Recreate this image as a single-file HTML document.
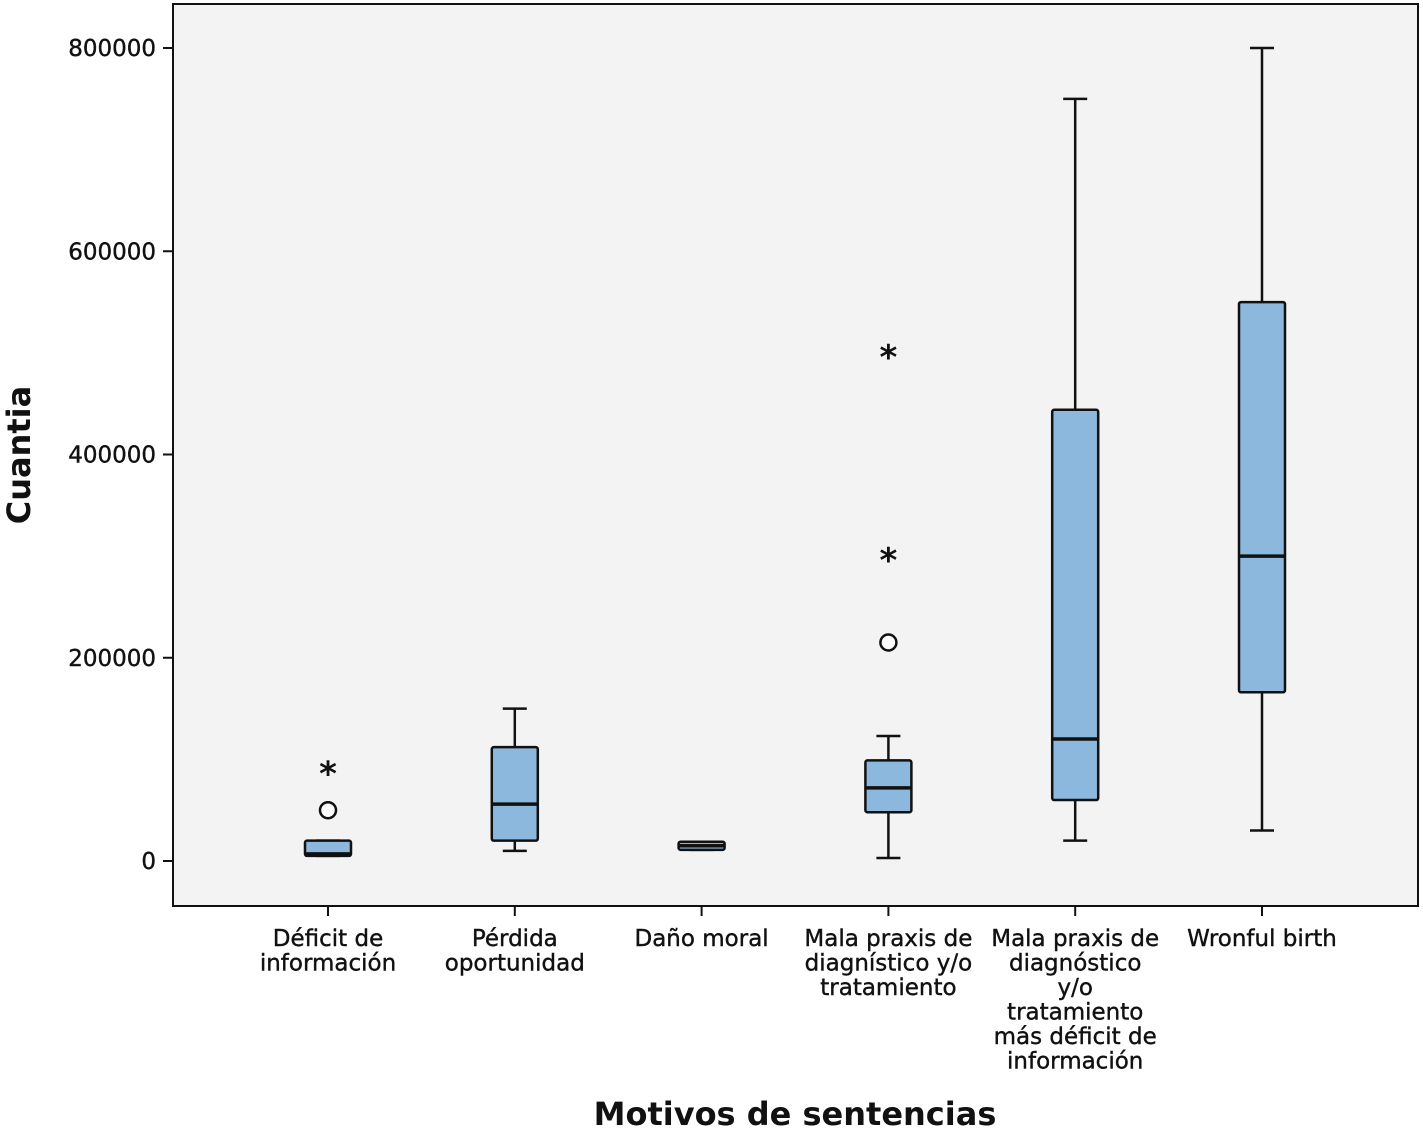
<!DOCTYPE html>
<html><head><meta charset="utf-8"><style>
html,body{margin:0;padding:0;background:#fff;}
svg{display:block;font-family:"DejaVu Sans","Liberation Sans",sans-serif;}
</style></head><body>
<svg id="chart" width="1423" height="1133" viewBox="0 0 1423 1133">
<rect x="173" y="4" width="1245" height="902" fill="#f3f3f3" stroke="#111" stroke-width="2"/>
<g id="yticks"></g>
<g id="boxes"></g>
<g id="xlabels"></g>
<text x="30" y="455" transform="rotate(-90 30 455)" text-anchor="middle" font-size="32" font-weight="bold" fill="#111">Cuantia</text>
<text x="795" y="1125" text-anchor="middle" font-size="32" font-weight="bold" fill="#111">Motivos de sentencias</text>
</svg>
<script>
const categories = [["Déficit de","información"],["Pérdida","oportunidad"],["Daño moral"],["Mala praxis de","diagnístico y/o","tratamiento"],["Mala praxis de","diagnóstico","y/o","tratamiento","más déficit de","información"],["Wronful birth"]];
const whiskerLow = [5000,10000,11000,3000,20000,30000];
const q1 = [5000,20000,11000,48000,60000,166000];
const medians = [7000,56000,15000,72000,120000,300000];
const q3 = [20000,112000,19000,99000,444000,550000];
const whiskerHigh = [20000,150000,19000,123000,750000,800000];
const circleOutliers = [[0,50000],[3,215000]];
const starOutliers = [[0,90000],[3,300000],[3,500000]];
const yTicks = [0,200000,400000,600000,800000];
const NS="http://www.w3.org/2000/svg";
function y(v){return 861-(v/800000)*(861-48);}
function x(i){return 328+i*186.8;}
function mk(tag,attrs,parent){const e=document.createElementNS(NS,tag);for(const k in attrs)e.setAttribute(k,attrs[k]);parent.appendChild(e);return e;}
const yg=document.getElementById('yticks'),bg=document.getElementById('boxes'),xg=document.getElementById('xlabels');
yTicks.forEach(t=>{
  const l=mk('line',{x1:163,x2:173,y1:y(t),y2:y(t),stroke:'#111','stroke-width':2},yg);
  
  
  const tx=mk('text',{x:156,y:y(t)+8,'text-anchor':'end','font-size':23,fill:'#111','stroke':'#111','stroke-width':0.4},yg);
  tx.textContent=t;
  
  
});
const hw=23;
categories.forEach((c,i)=>{
  const cx=x(i);
  const g=mk('g',{},bg);
  
  
  mk('line',{x1:cx,x2:cx,y1:y(whiskerHigh[i]),y2:y(q3[i]),stroke:'#111','stroke-width':2.5},g);
  mk('line',{x1:cx,x2:cx,y1:y(q1[i]),y2:y(whiskerLow[i]),stroke:'#111','stroke-width':2.5},g);
  mk('line',{x1:cx-12,x2:cx+12,y1:y(whiskerHigh[i]),y2:y(whiskerHigh[i]),stroke:'#111','stroke-width':2.5},g);
  mk('line',{x1:cx-12,x2:cx+12,y1:y(whiskerLow[i]),y2:y(whiskerLow[i]),stroke:'#111','stroke-width':2.5},g);
  mk('rect',{x:cx-hw,y:y(q3[i]),width:2*hw,height:Math.max(1,y(q1[i])-y(q3[i])),fill:'#8cb8de',stroke:'#111','stroke-width':2.5,rx:2},g);
  mk('line',{x1:cx-hw,x2:cx+hw,y1:y(medians[i]),y2:y(medians[i]),stroke:'#111','stroke-width':3.5},g);
  const tk=mk('line',{x1:cx,x2:cx,y1:906,y2:916,stroke:'#111','stroke-width':2},xg);
  
  
  const tx=mk('text',{x:cx,'text-anchor':'middle','font-size':23,fill:'#111','stroke':'#111','stroke-width':0.4},xg);
  
  
  c.forEach((ln,j)=>{const s=mk('tspan',{x:cx,y:946+j*24.5},tx);s.textContent=ln;});
});
circleOutliers.forEach(o=>{
  const c=mk('circle',{cx:x(o[0]),cy:y(o[1]),r:8,fill:'#fff',stroke:'#111','stroke-width':2.5},bg);
  
  
});
starOutliers.forEach(o=>{
  const t=mk('text',{x:x(o[0]),y:y(o[1])+16,'text-anchor':'middle','font-size':34,'font-weight':'bold',fill:'#111'},bg);
  t.textContent='*';
  
  
});
</script>
</body></html>
